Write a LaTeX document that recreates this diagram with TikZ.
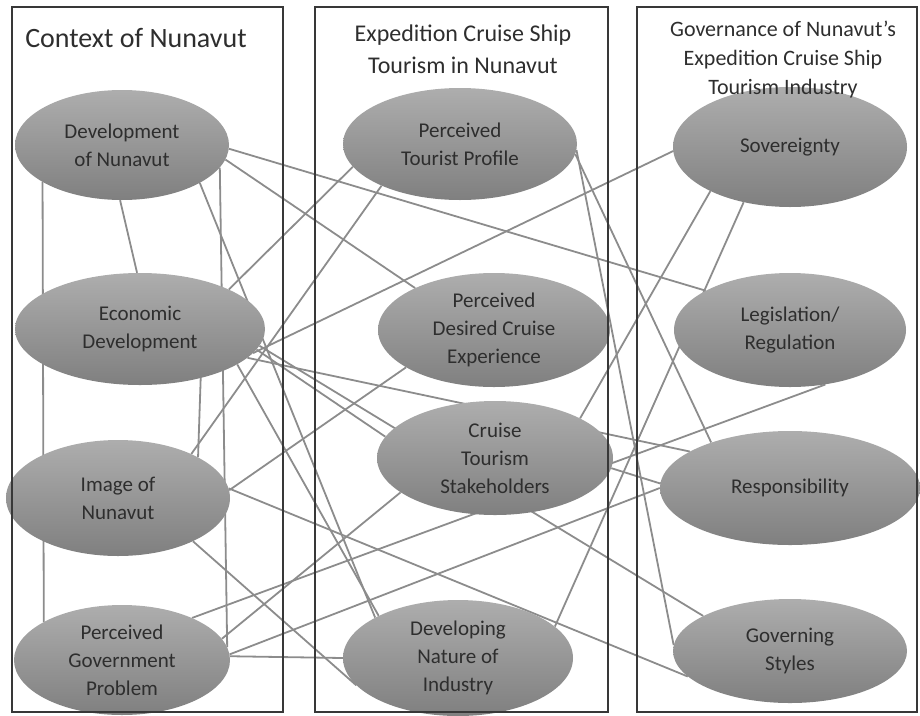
\documentclass[tikz,border=0pt]{standalone}
\usepackage{fontspec}
\setmainfont{Carlito}
\usetikzlibrary{shapes.geometric,backgrounds}

\newlength{\du}
\setlength{\du}{1pt}

\definecolor{framecolor}{rgb}{0.22,0.22,0.22}
\definecolor{linkcolor}{rgb}{0.55,0.55,0.55}
\definecolor{ovaltop}{rgb}{0.68,0.68,0.68}
\definecolor{ovalbottom}{rgb}{0.50,0.50,0.50}
\definecolor{labelcolor}{rgb}{0.18,0.18,0.18}

\tikzset{
  theme/.style={ellipse, inner sep=0pt, top color=ovaltop, bottom color=ovalbottom,
    text=labelcolor, align=center, font=\fontsize{21}{28}\selectfont},
  panel/.style={draw=framecolor, line width=1.8\du},
  heading/.style={text=labelcolor, align=center},
  link/.style={draw=linkcolor, line width=1.8\du},
}

\begin{document}
\begin{tikzpicture}[x=\du,y=-\du]
\useasboundingbox (0,0) rectangle (920,715);
% context of nunavut
\node[theme, minimum width=214\du, minimum height=110\du] (devn) at (122,145) {Development\\of Nunavut};
\node[theme, minimum width=250\du, minimum height=112\du] (econ) at (140,329) {Economic\\Development};
\node[theme, minimum width=224\du, minimum height=116\du] (imgn) at (118,498) {Image of\\Nunavut};
\node[theme, minimum width=216\du, minimum height=110\du] (pgp) at (122,660) {Perceived\\Government\\Problem};
% cruise ship tourism
\node[theme, minimum width=234\du, minimum height=112\du] (tour) at (460,144) {Perceived\\Tourist Profile};
\node[theme, minimum width=232\du, minimum height=114\du] (des) at (494,330) {Perceived\\Desired Cruise\\Experience};
\node[theme, minimum width=236\du, minimum height=114\du] (stake) at (495,458) {Cruise\\Tourism\\Stakeholders};
\node[theme, minimum width=230\du, minimum height=116\du] (devind) at (458,658) {Developing\\Nature of\\Industry};
% governance
\node[theme, minimum width=234\du, minimum height=120\du] (sov) at (790,147) {Sovereignty};
\node[theme, minimum width=232\du, minimum height=114\du] (leg) at (790,330) {Legislation/\\Regulation};
\node[theme, minimum width=260\du, minimum height=114\du] (resp) at (790,488) {Responsibility};
\node[theme, minimum width=234\du, minimum height=104\du] (gov) at (790,651) {Governing\\Styles};

\begin{pgfonlayer}{background}
\draw[link] (devn.-92) -- (econ.93);
\draw[link] (devn.-155) -- (pgp.154);
\draw[link] (devn.-13) -- (pgp.7);
\draw[link] (devn.-2) -- (leg.155);
\draw[link] (devn.-8) -- (des.152);
\draw[link] (devn.-26) -- (devind.154);
\draw[link] (econ.-39) -- (imgn.27);
\draw[link] (econ.24) -- (tour.-168);
\draw[link] (econ.-12) -- (sov.-178);
\draw[link] (econ.-10) -- (stake.169);
\draw[link] (econ.-15) -- (resp.160);
\draw[link] (econ.-8) -- (gov.158);
\draw[link] (econ.-20) -- (devind.152);
\draw[link] (imgn.31) -- (tour.-152);
\draw[link] (imgn.4) -- (des.-157);
\draw[link] (imgn.-30) -- (devind.-165);
\draw[link] (imgn.5) -- (gov.-166);
\draw[link] (pgp.2) -- (devind.180);
\draw[link] (pgp.31) -- (leg.-57);
\draw[link] (pgp.3) -- (resp.180);
\draw[link] (pgp.12) -- (stake.-160);
\draw[link] (tour.-5) -- (resp.150);
\draw[link] (tour.-3) -- (gov.177);
\draw[link] (sov.-151) -- (stake.25);
\draw[link] (sov.-130) -- (devind.18);
\draw[link] (stake.-5) -- (resp.178);
\end{pgfonlayer}

% the three columns
\draw[panel] (12,7) rectangle (283,712);
\draw[panel] (315,7) rectangle (608,712);
\draw[panel] (637,7) rectangle (917,712);
\node[heading, font=\fontsize{28}{32}\selectfont] (ctxtitle) at (136,38) {Context of Nunavut};
\node[heading, font=\fontsize{24}{32}\selectfont] (shiptitle) at (463,49) {Expedition Cruise Ship\\Tourism in Nunavut};
\node[heading, font=\fontsize{22}{29}\selectfont] (govtitle) at (783,60) {Governance of Nunavut's\\Expedition Cruise Ship\\Tourism Industry};
\end{tikzpicture}
\end{document}
